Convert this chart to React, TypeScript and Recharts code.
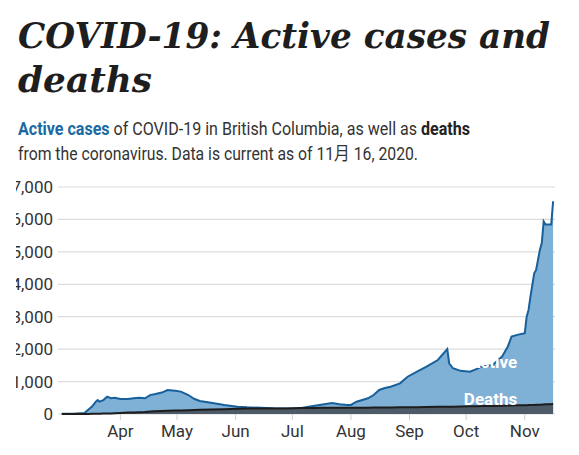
import React, { useLayoutEffect, useRef, useState } from 'react';
import {
  AreaChart,
  Area,
  XAxis,
  YAxis,
  CartesianGrid,
  ReferenceDot,
} from 'recharts';

// ---- data (2020, month-day) ----
const dates = [
  '03-01', '03-07', '03-13', '03-15', '03-17', '03-19', '03-20', '03-21', '03-23', '03-25',
  '03-27', '03-29', '04-01', '04-05', '04-08', '04-11', '04-14', '04-17', '04-19', '04-23',
  '04-26', '04-30', '05-03', '05-07', '05-10', '05-13', '05-19', '05-26', '06-02', '06-07',
  '06-14', '06-21', '06-28', '07-05', '07-12', '07-17', '07-22', '07-26', '07-30', '08-01',
  '08-04', '08-10', '08-13', '08-16', '08-19', '08-22', '08-27', '08-31', '09-05', '09-10',
  '09-16', '09-19', '09-21', '09-22', '09-24', '09-28', '10-03', '10-07', '10-09', '10-15',
  '10-20', '10-23', '10-25', '10-28', '11-01', '11-02', '11-03', '11-04', '11-06', '11-07',
  '11-09', '11-10', '11-11', '11-12', '11-15', '11-16',
];

const activeCases = [
  5, 10, 30, 130, 230, 380, 430, 380, 430, 535,
  485, 500, 460, 460, 485, 500, 485, 590, 610, 660,
  740, 720, 690, 585, 470, 400, 350, 280, 225, 205,
  190, 175, 170, 180, 245, 290, 340, 300, 280, 278,
  380, 485, 585, 740, 800, 840, 945, 1150, 1305, 1460,
  1665, 1870, 2005, 1565, 1410, 1330, 1305, 1400, 1460, 1510,
  1770, 2075, 2385, 2440, 2490, 3000, 3210, 3620, 4340, 4440,
  5060, 5270, 5940, 5840, 5840, 6560,
];

const deaths = [
  0, 0, 1, 1, 4, 7, 8, 8, 13, 14,
  17, 24, 31, 43, 50, 55, 58, 75, 81, 94,
  100, 109, 111, 117, 124, 128, 135, 149, 164, 166,
  167, 168, 173, 183, 187, 189, 189, 190, 195, 195,
  195, 196, 198, 200, 202, 203, 205, 206, 210, 213,
  220, 223, 224, 225, 227, 230, 238, 242, 244, 250,
  256, 259, 263, 268, 273, 273, 277, 279, 281, 284,
  288, 290, 295, 298, 304, 320,
];

const monthTickDates = ['04-01', '05-01', '06-01', '07-01', '08-01', '09-01', '10-01', '11-01'];
const monthTickLabels = ['Apr', 'May', 'Jun', 'Jul', 'Aug', 'Sep', 'Oct', 'Nov'];
const yTicks = [0, 1000, 2000, 3000, 4000, 5000, 6000, 7000];
const domainStart = '02-28';
const domainEnd = '11-17';

const seriesLabels = [
  { text: 'Active', date: '10-28', value: 1420 },
  { text: 'Deaths', date: '10-28', value: 277 },
];

const START = Date.UTC(2020, 2, 1);
const dayOf = (md: string) => {
  const [m, d] = md.split('-').map(Number);
  return (Date.UTC(2020, m - 1, d) - START) / 86400000;
};

const rows = dates.map((d, i) => ({
  t: dayOf(d),
  active: activeCases[i],
  deaths: deaths[i],
}));

const monthTicks = monthTickDates.map(dayOf);
const monthName = (v: number) => {
  const i = monthTicks.indexOf(v);
  return i >= 0 ? monthTickLabels[i] : '';
};

const SANS = 'Roboto, "Noto Sans CJK SC", sans-serif';

function FitLine({ left, top, width, children }: { left: number; top: number; width: number; children: React.ReactNode }) {
  const ref = useRef<HTMLSpanElement>(null);
  const [scale, setScale] = useState(1);
  useLayoutEffect(() => {
    if (ref.current) {
      const w = ref.current.getBoundingClientRect().width / scale;
      if (w > 0) setScale(width / w);
    }
    // eslint-disable-next-line react-hooks/exhaustive-deps
  }, []);
  return (
    <span
      ref={ref}
      style={{
        position: 'absolute',
        left,
        top,
        whiteSpace: 'nowrap',
        display: 'inline-block',
        fontFamily: SANS,
        fontSize: 18,
        lineHeight: '18px',
        color: '#333',
        transform: `scaleX(${scale})`,
        transformOrigin: '0 0',
      }}
    >
      {children}
    </span>
  );
}

export default function App() {
  return (
    <div style={{ position: 'absolute', left: 0, top: 0, width: 579, height: 455, background: '#fff' }}>
      <svg width={579} height={110} style={{ position: 'absolute', left: 0, top: 0 }}>
        <text
          x={18}
          y={48}
          fontFamily='"DejaVu Serif", serif'
          fontWeight={700}
          fontStyle="italic"
          fontSize={36}
          fill="#1e1e1e"
          textLength={532}
          lengthAdjust="spacingAndGlyphs"
        >
          COVID-19: Active cases and
        </text>
        <text
          x={18}
          y={92}
          fontFamily='"DejaVu Serif", serif'
          fontWeight={700}
          fontStyle="italic"
          fontSize={36}
          fill="#1e1e1e"
          textLength={134}
          lengthAdjust="spacingAndGlyphs"
        >
          deaths
        </text>
      </svg>
      <FitLine left={18} top={120} width={452}>
        <b style={{ color: '#1a6aa2' }}>Active cases</b> of COVID-19 in British Columbia, as well as{' '}
        <b style={{ color: '#222' }}>deaths</b>
      </FitLine>
      <FitLine left={18} top={145} width={400}>
        from the coronavirus. Data is current as of 11月 16, 2020.
      </FitLine>
      <div style={{ position: 'absolute', left: 16, top: 172, width: 563, height: 283, overflow: 'hidden' }}>
        <AreaChart
          width={563}
          height={283}
          data={rows}
          margin={{ top: 15, right: 24, left: 0, bottom: 11 }}
        >
          <CartesianGrid horizontal vertical={false} stroke="#dcdcdc" strokeWidth={1.2} />
          <XAxis
            dataKey="t"
            type="number"
            domain={[dayOf(domainStart), dayOf(domainEnd)]}
            ticks={monthTicks}
            tickFormatter={monthName}
            allowDataOverflow
            height={30}
            axisLine={false}
            tickLine={{ stroke: '#cfcfcf' }}
            tickSize={6}
            tickMargin={5}
            tick={{ fontFamily: SANS, fontSize: 17, fill: '#333' }}
          />
          <YAxis
            type="number"
            domain={[0, 7000]}
            ticks={yTicks}
            width={42}
            axisLine={false}
            tickLine={false}
            tickSize={0}
            tickMargin={5}
            tickFormatter={(v: number) => v.toLocaleString('en-US')}
            tick={{ fontFamily: SANS, fontSize: 17, fill: '#333' }}
            interval={0}
          />
          <Area
            type="linear"
            dataKey="active"
            stroke="#17609b"
            strokeWidth={2}
            fill="#7fb0d5"
            fillOpacity={1}
            isAnimationActive={false}
            dot={false}
            activeDot={false}
          />
          <Area
            type="linear"
            dataKey="deaths"
            stroke="#1d1d1d"
            strokeWidth={2}
            fill="#4c5b67"
            fillOpacity={1}
            isAnimationActive={false}
            dot={false}
            activeDot={false}
          />
          {seriesLabels.map((l) => (
            <ReferenceDot
              key={l.text}
              x={dayOf(l.date)}
              y={l.value}
              r={0}
              fill="none"
              stroke="none"
              label={{
                content: (props: any) => {
                  const vb = props.viewBox || {};
                  return (
                    <text
                      x={vb.x}
                      y={vb.y}
                      textAnchor="end"
                      fontFamily={SANS}
                      fontWeight={700}
                      fontSize={17}
                      fill="#ffffff"
                    >
                      {l.text}
                    </text>
                  );
                },
              }}
            />
          ))}
        </AreaChart>
      </div>
    </div>
  );
}
